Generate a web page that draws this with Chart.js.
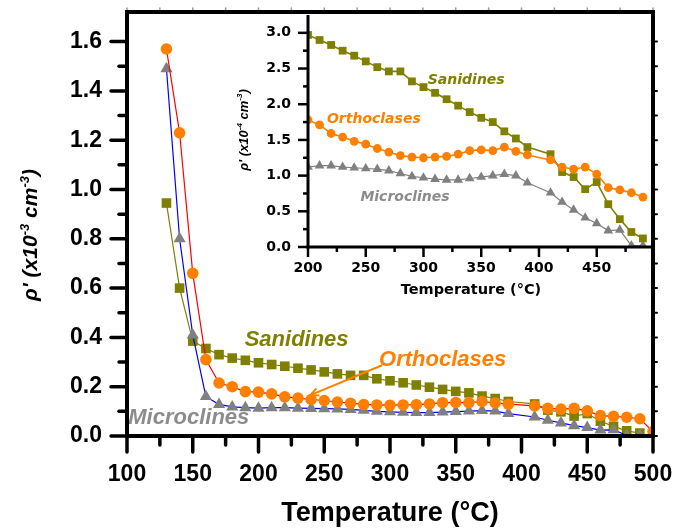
<!DOCTYPE html>
<html>
<head>
<meta charset="utf-8">
<script src="https://cdn.jsdelivr.net/npm/chart.js@4.4.0/dist/chart.umd.min.js"></script>
<style>
  html, body { margin: 0; padding: 0; background: #fff; }
  #wrap { position: relative; width: 688px; height: 530px; }
  #main { position: absolute; left: 0; top: 0; }
  #inset { position: absolute; left: 180px; top: 0; }
</style>
</head>
<body>
<div id="wrap">
  <canvas id="main" width="688" height="530"></canvas>
  <canvas id="inset" width="480" height="310"></canvas>
</div>
<script>
// --- data: main panel (rho' in x10^-3 cm^-3) ---
const tempMain = [130, 140, 150, 160, 170, 180, 190, 200, 210, 220, 230, 240, 250, 260, 270, 280, 290, 300,
  310, 320, 330, 340, 350, 360, 370, 380, 390, 410, 420, 430, 440, 450, 460, 470, 480, 490];
const tempMainOrtho = [130, 140, 150, 160, 170, 180, 190, 200, 210, 220, 230, 240, 250, 260, 270, 280, 290, 300,
  310, 320, 330, 340, 350, 360, 370, 380, 390, 410, 420, 430, 440, 450, 460, 470, 480, 490, 500];

const sanidinesMain = [0.945, 0.600, 0.385, 0.355, 0.330, 0.316, 0.307, 0.297, 0.290, 0.283, 0.275, 0.268,
  0.260, 0.252, 0.246, 0.246, 0.232, 0.224, 0.216, 0.207, 0.198, 0.189, 0.181, 0.175, 0.162, 0.152, 0.140,
  0.130, 0.105, 0.098, 0.081, 0.091, 0.060, 0.039, 0.021, 0.012];
const orthoclasesMain = [1.570, 1.230, 0.660, 0.310, 0.215, 0.200, 0.180, 0.178, 0.171, 0.159, 0.154, 0.148,
  0.144, 0.138, 0.133, 0.128, 0.126, 0.125, 0.126, 0.127, 0.130, 0.135, 0.136, 0.135, 0.140, 0.134, 0.129,
  0.122, 0.112, 0.109, 0.112, 0.102, 0.083, 0.080, 0.076, 0.070, 0.018];
const microclinesMain = [1.490, 0.800, 0.410, 0.160, 0.128, 0.118, 0.115, 0.113, 0.115, 0.115, 0.113, 0.112,
  0.111, 0.110, 0.108, 0.104, 0.100, 0.098, 0.096, 0.095, 0.095, 0.097, 0.099, 0.101, 0.103, 0.101, 0.091,
  0.077, 0.064, 0.053, 0.042, 0.034, 0.024, 0.025, 0.003, 0.003];

// --- data: inset (rho' in x10^-4 cm^-3) ---
const tempInset = [200, 210, 220, 230, 240, 250, 260, 270, 280, 290, 300, 310, 320, 330, 340, 350, 360, 370,
  380, 390, 410, 420, 430, 440, 450, 460, 470, 480, 490];
const sanidinesInset = [2.97, 2.90, 2.83, 2.75, 2.68, 2.60, 2.52, 2.46, 2.46, 2.32, 2.24, 2.16, 2.07, 1.98,
  1.89, 1.81, 1.75, 1.62, 1.52, 1.40, 1.30, 1.05, 0.98, 0.81, 0.91, 0.60, 0.39, 0.21, 0.12];
const orthoclasesInset = [1.78, 1.71, 1.59, 1.54, 1.48, 1.44, 1.38, 1.33, 1.28, 1.26, 1.25, 1.26, 1.27, 1.30,
  1.35, 1.36, 1.35, 1.40, 1.34, 1.29, 1.22, 1.12, 1.09, 1.12, 1.02, 0.83, 0.80, 0.76, 0.70];
const microclinesInset = [1.12, 1.14, 1.14, 1.12, 1.11, 1.10, 1.09, 1.07, 1.03, 0.99, 0.97, 0.95, 0.94, 0.94,
  0.96, 0.98, 1.00, 1.02, 1.00, 0.90, 0.76, 0.63, 0.52, 0.41, 0.33, 0.23, 0.24, 0.02, 0.02];

// ticks
const mainXLabels = [100, 150, 200, 250, 300, 350, 400, 450, 500];
const mainYLabels = [0.0, 0.2, 0.4, 0.6, 0.8, 1.0, 1.2, 1.4, 1.6];
const insetXLabels = [200, 250, 300, 350, 400, 450];
const insetYLabels = [0.0, 0.5, 1.0, 1.5, 2.0, 2.5, 3.0];

// in-plot labels
const mainNotes = [
  { text: 'Sanidines', x: 229, y: 0.388, color: '#808000' },
  { text: 'Orthoclases', x: 340, y: 0.307, color: '#ff8000' },
  { text: 'Microclines', x: 147, y: 0.073, color: '#8c8c8c' }
];
const mainArrow = { from: [294, 0.287], to: [239.5, 0.166], color: '#ff8000' };
const insetNotes = [
  { text: 'Sanidines', x: 337, y: 2.34, color: '#808000' },
  { text: 'Orthoclases', x: 257, y: 1.79, color: '#ff8000' },
  { text: 'Microclines', x: 284, y: 0.70, color: '#8c8c8c' }
];

const OLIVE = '#808000';
const ORANGE = '#ff8000';
const GRAY = '#808080';
const SANS = '"Liberation Sans", Arial, sans-serif';
const WIDE = '"DejaVu Sans", sans-serif';

const pts = (xs, ys) => xs.map((x, i) => ({ x, y: ys[i] }));

function serie(label, xs, ys, lineColor, markColor, shape, r, lw) {
  return {
    label,
    data: pts(xs, ys),
    showLine: true,
    borderColor: lineColor,
    borderWidth: lw,
    pointStyle: shape,
    pointRadius: r,
    pointBackgroundColor: markColor,
    pointBorderWidth: 0,
    tension: 0
  };
}

function tickValues(min, max, step) {
  const out = [];
  const n = Math.round((max - min) / step);
  for (let i = 0; i <= n; i++) out.push({ v: min + i * step, major: i % 2 === 0 });
  return out;
}

function drawRich(ctx, parts, cx, cy, size, style, family, color) {
  ctx.save();
  ctx.translate(cx, cy);
  ctx.rotate(-Math.PI / 2);
  ctx.fillStyle = color;
  ctx.textAlign = 'left';
  ctx.textBaseline = 'alphabetic';
  const fontOf = sup => `${style} ${sup ? Math.round(size * 0.62) : size}px ${family}`;
  let total = 0;
  const widths = parts.map(([t, sup]) => { ctx.font = fontOf(sup); const w = ctx.measureText(t).width; total += w; return w; });
  let x = -total / 2;
  const base = size * 0.35;
  parts.forEach(([t, sup], i) => {
    ctx.font = fontOf(sup);
    ctx.fillText(t, x, sup ? base - size * 0.42 : base);
    x += widths[i];
  });
  ctx.restore();
}

function drawNotes(chart, notes, font) {
  const { ctx, scales } = chart;
  ctx.save();
  ctx.font = font;
  ctx.textAlign = 'center';
  ctx.textBaseline = 'middle';
  notes.forEach(n => {
    ctx.fillStyle = n.color;
    ctx.fillText(n.text, scales.x.getPixelForValue(n.x), scales.y.getPixelForValue(n.y));
  });
  ctx.restore();
}

function line(ctx, x1, y1, x2, y2) {
  ctx.beginPath();
  ctx.moveTo(x1, y1);
  ctx.lineTo(x2, y2);
  ctx.stroke();
}

const decoMain = {
  id: 'decoMain',
  afterDatasetsDraw(chart) {
    drawNotes(chart, mainNotes, `italic bold 22px ${SANS}`);
    const { ctx, scales } = chart;
    const x1 = scales.x.getPixelForValue(mainArrow.from[0]), y1 = scales.y.getPixelForValue(mainArrow.from[1]);
    const x2 = scales.x.getPixelForValue(mainArrow.to[0]), y2 = scales.y.getPixelForValue(mainArrow.to[1]);
    ctx.save();
    ctx.strokeStyle = mainArrow.color;
    ctx.lineWidth = 2;
    line(ctx, x1, y1, x2, y2);
    const a = Math.atan2(y2 - y1, x2 - x1);
    [0.45, -0.45].forEach(d => line(ctx, x2, y2, x2 - 9 * Math.cos(a + d), y2 - 9 * Math.sin(a + d)));
    ctx.restore();
  },
  afterDraw(chart) {
    const { ctx, chartArea: { left, right, top, bottom }, scales } = chart;
    ctx.save();
    ctx.strokeStyle = '#000';
    ctx.lineCap = 'round';
    ctx.lineWidth = 3.5;
    tickValues(100, 500, 25).forEach(t => {
      const px = scales.x.getPixelForValue(t.v);
      line(ctx, px, bottom, px, bottom + (t.major ? 16 : 9));
    });
    tickValues(0, 1.6, 0.1).forEach(t => {
      const py = scales.y.getPixelForValue(t.v);
      line(ctx, left, py, left - (t.major ? 16 : 8), py);
    });
    ctx.lineWidth = 2;
    tickValues(0, 1.6, 0.1).forEach(t => {
      const py = scales.y.getPixelForValue(t.v);
      line(ctx, right, py, right + 4, py);
    });
    ctx.strokeStyle = '#999';
    ctx.lineWidth = 1.5;
    tickValues(100, 500, 25).forEach(t => {
      const px = scales.x.getPixelForValue(t.v);
      line(ctx, px, top, px, top - 4);
    });
    ctx.strokeStyle = '#000';
    ctx.lineWidth = 4;
    ctx.lineCap = 'butt';
    ctx.strokeRect(left, top, right - left, bottom - top);
    ctx.restore();
    drawRich(ctx, [["ρ' (x10", 0], ['-3', 1], [' cm', 0], ['-3', 1], [')', 0]],
      30, 235, 21, 'italic bold', SANS, '#000');
  }
};

const decoInset = {
  id: 'decoInset',
  afterDatasetsDraw(chart) {
    drawNotes(chart, insetNotes, `italic bold 14px ${WIDE}`);
  },
  afterDraw(chart) {
    const { ctx, chartArea: { left, right, top, bottom }, scales } = chart;
    ctx.save();
    ctx.strokeStyle = '#000';
    ctx.lineWidth = 2.5;
    tickValues(200, 475, 25).forEach(t => {
      const px = scales.x.getPixelForValue(t.v);
      line(ctx, px, bottom, px, bottom + (t.major ? 10 : 5));
    });
    tickValues(0, 3.0, 0.25).forEach(t => {
      const py = scales.y.getPixelForValue(t.v);
      line(ctx, left, py, left - (t.major ? 10 : 5), py);
    });
    ctx.lineWidth = 3;
    line(ctx, left, top, left, bottom + 1.5);
    line(ctx, left - 1.5, bottom, right, bottom);
    // x title sits a little left of the axis centre in the original
    ctx.fillStyle = '#000';
    ctx.font = `bold 14.5px ${WIDE}`;
    ctx.textAlign = 'center';
    ctx.textBaseline = 'middle';
    ctx.fillText('Temperature (°C)', 291, 290);
    ctx.restore();
    drawRich(ctx, [["ρ' (x10", 0], ['-4', 1], [' cm', 0], ['-3', 1], [')', 0]],
      63, 130, 13, 'italic bold', SANS, '#000');
  }
};

Chart.defaults.font.family = SANS;
Chart.defaults.color = '#000';

// fixed axis sizes, no extra label padding so the plot box lands where it should
const fixHeight = h => s => { s.height = h; s.paddingLeft = 0; s.paddingRight = 0; };
const fixWidth = w => s => { s.width = w; s.paddingTop = 0; s.paddingBottom = 0; };

function axisCfg(min, max, labels, fontCfg, pad, extra) {
  return Object.assign({
    type: 'linear',
    min, max,
    grid: { display: false, drawTicks: false },
    border: { display: false },
    ticks: {
      color: '#000',
      font: fontCfg,
      padding: pad,
      autoSkip: false,
      maxRotation: 0,
      includeBounds: false,
      stepSize: labels[1] - labels[0],
      callback: v => (labels.includes(v) && Number.isInteger(labels[1] - labels[0])) ? String(v) : v.toFixed(1)
    }
  }, extra);
}

new Chart(document.getElementById('main'), {
  type: 'scatter',
  data: {
    datasets: [
      serie('Orthoclases', tempMainOrtho, orthoclasesMain, '#ff0000', ORANGE, 'circle', 5.8, 1.2),
      serie('Microclines', tempMain, microclinesMain, '#0000ff', GRAY, 'triangle', 7, 1.2),
      serie('Sanidines', tempMain, sanidinesMain, OLIVE, OLIVE, 'rect', 6.8, 1.2)
    ]
  },
  options: {
    responsive: false,
    animation: false,
    devicePixelRatio: 1,
    layout: { autoPadding: false, padding: { left: 0, top: 12, right: 35, bottom: 0 } },
    plugins: { legend: { display: false }, tooltip: { enabled: false } },
    scales: {
      x: axisCfg(100, 500, mainXLabels, { size: 23, weight: 'bold', family: SANS }, 25, {
        title: { display: true, text: 'Temperature (°C)', color: '#000',
          font: { size: 27, weight: 'bold', family: SANS }, padding: { top: 0, bottom: 0 } },
        afterFit: fixHeight(94)
      }),
      y: axisCfg(0, 1.72, mainYLabels, { size: 23, weight: 'bold', family: SANS }, 25, {
        afterFit: fixWidth(127)
      })
    }
  },
  plugins: [decoMain]
});

new Chart(document.getElementById('inset'), {
  type: 'scatter',
  data: {
    datasets: [
      serie('Orthoclases', tempInset, orthoclasesInset, ORANGE, ORANGE, 'circle', 4.4, 1.6),
      serie('Sanidines', tempInset, sanidinesInset, OLIVE, OLIVE, 'rect', 5.5, 1.6),
      serie('Microclines', tempInset, microclinesInset, GRAY, GRAY, 'triangle', 5.6, 1.2)
    ]
  },
  options: {
    responsive: false,
    animation: false,
    devicePixelRatio: 1,
    layout: { autoPadding: false, padding: { left: 0, top: 15, right: 9, bottom: 0 } },
    plugins: { legend: { display: false }, tooltip: { enabled: false } },
    scales: {
      x: axisCfg(200, 497, insetXLabels, { size: 14, weight: 'bold', family: WIDE }, 13, {
        afterFit: fixHeight(63)
      }),
      y: axisCfg(0, 3.25, insetYLabels, { size: 14, weight: 'bold', family: WIDE }, 17, {
        afterFit: fixWidth(128)
      })
    }
  },
  plugins: [decoInset]
});
</script>
</body>
</html>
